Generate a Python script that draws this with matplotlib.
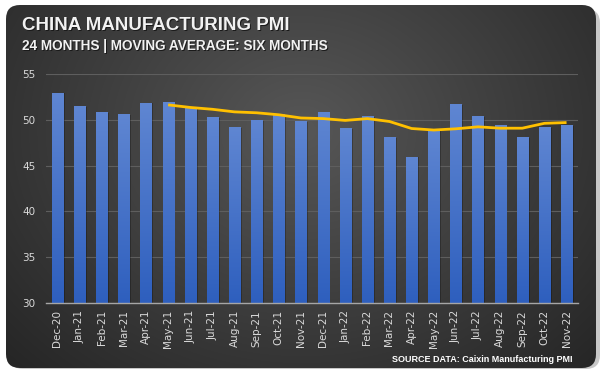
import numpy as np
import pandas as pd
import matplotlib
matplotlib.use("Agg")
import matplotlib.pyplot as plt
from matplotlib.patches import FancyBboxPatch

# data
months = ["Dec-20", "Jan-21", "Feb-21", "Mar-21", "Apr-21", "May-21", "Jun-21", "Jul-21",
          "Aug-21", "Sep-21", "Oct-21", "Nov-21", "Dec-21", "Jan-22", "Feb-22", "Mar-22",
          "Apr-22", "May-22", "Jun-22", "Jul-22", "Aug-22", "Sep-22", "Oct-22", "Nov-22"]
pmi = [53.0, 51.5, 50.9, 50.6, 51.9, 52.0, 51.3, 50.3, 49.2, 50.0, 50.6, 49.9,
       50.9, 49.1, 50.4, 48.1, 46.0, 48.9, 51.7, 50.4, 49.5, 48.1, 49.2, 49.4]
yticks = [30, 35, 40, 45, 50, 55]
ma_period = 6

W, H = 603, 373
fig = plt.figure(figsize=(W / 100, H / 100), dpi=100)
fig.patch.set_facecolor("white")

# background panel: rounded box with a radial gradient
bg = fig.add_axes([0, 0, 1, 1])
bg.set_xlim(0, W)
bg.set_ylim(H, 0)
bg.axis("off")
yy, xx = np.mgrid[0:H, 0:W]
d = np.sqrt(((xx - W * 0.5) / (W * 0.6)) ** 2 + ((yy - H * 0.35) / (H * 0.8)) ** 2)
g = np.clip(0.34 - 0.17 * d, 0.15, 0.34)
img = np.dstack([g, g, g])
shadow = FancyBboxPatch((9, 9), W - 12, H - 13, boxstyle="round,pad=0,rounding_size=14",
                        fc="#c8c8c8", ec="none", zorder=0)
bg.add_patch(shadow)
box = FancyBboxPatch((6, 5), W - 13, H - 10, boxstyle="round,pad=0,rounding_size=14",
                     fc="none", ec="none")
bg.add_patch(box)
im = bg.imshow(img, extent=(0, W, H, 0), zorder=1)
im.set_clip_path(box)

# title block
for dx, dy, c in [(1.2, 1.2, "#1a1a1a"), (0, 0, "#f2f2f2")]:
    bg.text(22 + dx, 25 + dy, "CHINA MANUFACTURING PMI", color=c, fontsize=13.5,
            fontweight="bold", family="Liberation Sans", va="center", ha="left", zorder=3)
    bg.text(22 + dx, 46 + dy, "24 MONTHS | MOVING AVERAGE: SIX MONTHS", color=c,
            fontsize=9.8, fontweight="bold", family="Liberation Sans", va="center",
            ha="left", zorder=3)
bg.text(573, 359, "SOURCE DATA: Caixin Manufacturing PMI", color="white", fontsize=6.5,
        fontweight="bold", family=["Liberation Sans Narrow", "Liberation Sans"],
        ha="right", va="center", zorder=3)

# chart
ax = fig.add_axes([46.4 / W, 1 - 303 / H, (577.6 - 46.4) / W, (303 - 74.2) / H])
ax.patch.set_alpha(0)
x = np.arange(len(months))

grad = np.linspace(0, 1, 256).reshape(-1, 1)
cmap = matplotlib.colors.LinearSegmentedColormap.from_list("b", ["#2e5fbe", "#5f86d2"])
bars = ax.bar(x, pmi, width=0.5, color="#4472c4", zorder=2)
for b in bars:
    x0, w, h = b.get_x(), b.get_width(), b.get_height()
    # soft shadow
    ax.bar(x0 + w / 2 + 0.08, h - 30.1, width=w, bottom=30, color="black", alpha=0.25,
           zorder=1.5)
    gi = ax.imshow(grad, extent=(x0, x0 + w, 30, h), origin="lower", cmap=cmap,
                   aspect="auto", zorder=2.1)
    gi.set_clip_path(b)
ax.set_xlim(-0.5, len(months) - 0.5)
ax.set_ylim(30, 55)

ma = pd.Series(pmi).rolling(ma_period).mean()
ax.plot(x, ma, color="#ffc000", lw=2, zorder=4, solid_capstyle="butt")

ax.set_yticks(yticks)
ax.grid(axis="y", color="#5e5e5e", lw=0.8, zorder=0)
ax.set_axisbelow(True)
ax.set_xticks(x)
ax.set_xticklabels(months, rotation=90, color="#d9d9d9", fontsize=7.5)
ax.tick_params(axis="y", colors="#d9d9d9", labelsize=7.5, length=0, pad=8)
ax.tick_params(axis="x", length=0, pad=5)
for s in ["top", "right", "left"]:
    ax.spines[s].set_visible(False)
ax.spines["bottom"].set_color("#a6a6a6")
ax.spines["bottom"].set_linewidth(1)

fig.savefig("out.png", dpi=100)
